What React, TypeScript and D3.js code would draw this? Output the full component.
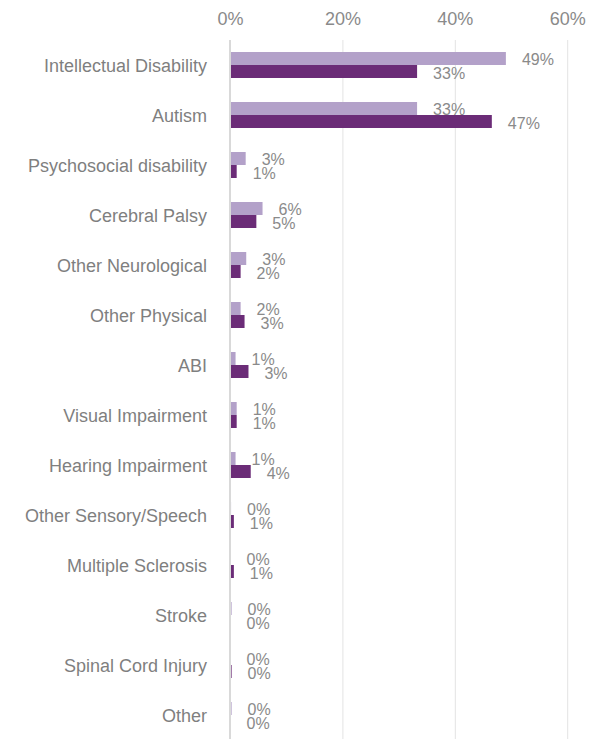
import React from "react";
import * as d3 from "d3";

const categories = [
  "Intellectual Disability",
  "Autism",
  "Psychosocial disability",
  "Cerebral Palsy",
  "Other Neurological",
  "Other Physical",
  "ABI",
  "Visual Impairment",
  "Hearing Impairment",
  "Other Sensory/Speech",
  "Multiple Sclerosis",
  "Stroke",
  "Spinal Cord Injury",
  "Other",
];
const seriesLight = [49.0, 33.2, 2.7, 5.7, 2.8, 1.8, 0.9, 1.1, 0.9, 0.1, 0.0, 0.2, 0.0, 0.2];
const seriesDark = [33.2, 46.5, 1.1, 4.6, 1.8, 2.5, 3.2, 1.1, 3.6, 0.6, 0.6, 0.0, 0.2, 0.0];
const ticks = [0, 20, 40, 60];

const W = 607;
const H = 739;
const FONT = "'Liberation Sans', Arial, sans-serif";
const LIGHT = "#b3a1c9";
const DARK = "#6b2c77";
const TEXT = "#8a8a8a";

export default function App() {
  const x = d3.scaleLinear().domain([0, 60]).range([230.5, 567.7]);
  const y = d3.scaleBand<string>().domain(categories).range([40, 740]);
  const barH = 13;
  const fmt = (v: number) => `${Math.round(v)}%`;

  return (
    <svg
      width={W}
      height={H}
      style={{ position: "absolute", left: 0, top: 0, display: "block" }}
      fontFamily={FONT}
    >
      <rect width={W} height={H} fill="#ffffff" />
      {ticks.map((t) => (
        <g key={t}>
          {t !== 0 && (
            <line x1={x(t)} x2={x(t)} y1={40} y2={H} stroke="#e3e3e3" strokeWidth={1} />
          )}
          <text x={x(t)} y={25} textAnchor="middle" fontSize={18} fill={TEXT}>
            {t}%
          </text>
        </g>
      ))}
      {categories.map((c, i) => {
        const cy = (y(c) as number) + y.bandwidth() / 2;
        const lv = seriesLight[i];
        const dv = seriesDark[i];
        return (
          <g key={c}>
            <text
              x={207}
              y={cy + 1}
              dy="0.35em"
              textAnchor="end"
              fontSize={18}
              fill="#7f7f7f"
            >
              {c}
            </text>
            <rect
              x={x(0)}
              y={cy - barH}
              width={Math.max(0, x(lv) - x(0))}
              height={barH}
              fill={LIGHT}
            />
            <rect
              x={x(0)}
              y={cy}
              width={Math.max(0, x(dv) - x(0))}
              height={barH}
              fill={DARK}
            />
            <text
              x={x(lv) + 16}
              y={cy - barH / 2 + 1}
              dy="0.35em"
              fontSize={16}
              fill={TEXT}
            >
              {fmt(lv)}
            </text>
            <text
              x={x(dv) + 16}
              y={cy + barH / 2 + 1.5}
              dy="0.35em"
              fontSize={16}
              fill={TEXT}
            >
              {fmt(dv)}
            </text>
          </g>
        );
      })}
      <line x1={230} x2={230} y1={40} y2={H} stroke="#d9d9d9" strokeWidth={2} />
    </svg>
  );
}
